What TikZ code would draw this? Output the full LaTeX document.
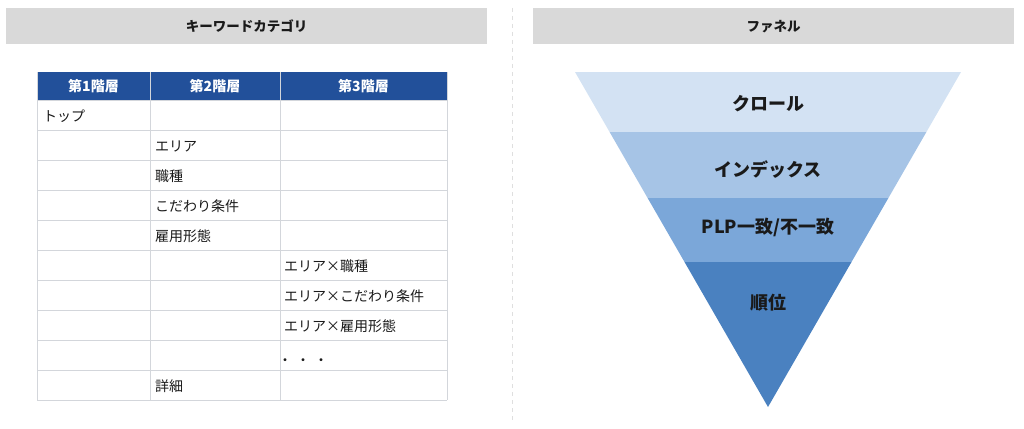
\documentclass[tikz,border=0pt]{standalone}
\usepackage{fontspec}
\setmainfont{Noto Sans CJK JP}
\definecolor{hdrgray}{HTML}{D9D9D9}
\definecolor{tblue}{HTML}{22509A}
\definecolor{gridc}{HTML}{D3D6DB}
\definecolor{fa}{HTML}{D3E2F3}
\definecolor{fb}{HTML}{A6C4E6}
\definecolor{fc}{HTML}{7BA7D9}
\definecolor{fd}{HTML}{4A81C0}
\definecolor{ink}{HTML}{1A1A1A}
\begin{document}
\begin{tikzpicture}[x=1pt,y=-1pt,
  hdrbox/.style={fill=hdrgray, draw=none, minimum width=481, minimum height=36, inner sep=0,
    font=\bfseries\fontsize{13.5}{16}\selectfont, text=ink},
  colhead/.style={font=\bfseries\fontsize{14}{16}\selectfont, text=white, inner sep=0},
  cell/.style={anchor=west, inner sep=0, text height=12, text depth=3,
    font=\fontsize{14}{16}\selectfont, text=ink},
  gridline/.style={draw=gridc, line width=1},
  flabel/.style={font=\bfseries\fontsize{18}{20}\selectfont, text=ink, inner sep=0}]
\useasboundingbox (0,0) rectangle (1024,428);
% headers
\node[hdrbox] (lhead) at (246.5,26.5) {キーワードカテゴリ};
\node[hdrbox] (rhead) at (773.5,26.5) {ファネル};
% divider
\coordinate (dtop) at (512,8);
\coordinate (dbot) at (512,420);
\draw[draw=gray!25, line width=1, dash pattern=on 4 off 4] (dtop) -- (dbot);
% table header
\fill[tblue] (37,72) rectangle (447,100);
\foreach \y in {100,130,...,400} \draw[gridline] (37,\y) -- (447,\y);
\foreach \x in {37,150,280,447} \draw[gridline] (\x,72) -- (\x,400);
\node[colhead] (h1) at (93.5,86) {第1階層};
\node[colhead] (h2) at (215,86) {第2階層};
\node[colhead] (h3) at (363.5,86) {第3階層};
% cells
\node[cell] (c0) at (43,117) {トップ};
\node[cell] (c1) at (155,147) {エリア};
\node[cell] (c2) at (155,177) {職種};
\node[cell] (c3) at (155,207) {こだわり条件};
\node[cell] (c4) at (155,237) {雇用形態};
\node[cell] (c5) at (284,267) {エリア×職種};
\node[cell] (c6) at (284,297) {エリア×こだわり条件};
\node[cell] (c7) at (284,327) {エリア×雇用形態};
\node[cell] (c8) at (278,361) {・\hspace{4pt}・\hspace{4pt}・};
\node[cell] (c9) at (155,387) {詳細};
% funnel
\coordinate (tl) at (575,72);
\coordinate (tr) at (961,72);
\coordinate (l1) at (609.6,132);
\coordinate (r1) at (926.4,132);
\coordinate (l2) at (647.6,198);
\coordinate (r2) at (888.4,198);
\coordinate (l3) at (684.5,262);
\coordinate (r3) at (851.5,262);
\coordinate (apex) at (768,407);
\fill[fa] (tl) -- (tr) -- (r1) -- (l1) -- cycle;
\fill[fb] (l1) -- (r1) -- (r2) -- (l2) -- cycle;
\fill[fc] (l2) -- (r2) -- (r3) -- (l3) -- cycle;
\fill[fd] (l3) -- (r3) -- (apex) -- cycle;
\node[flabel] (f1) at (768,104) {クロール};
\node[flabel] (f2) at (768,170) {インデックス};
\node[flabel] (f3) at (768,227) {PLP一致/不一致};
\node[flabel] (f4) at (768,303) {順位};
\end{tikzpicture}
\end{document}
